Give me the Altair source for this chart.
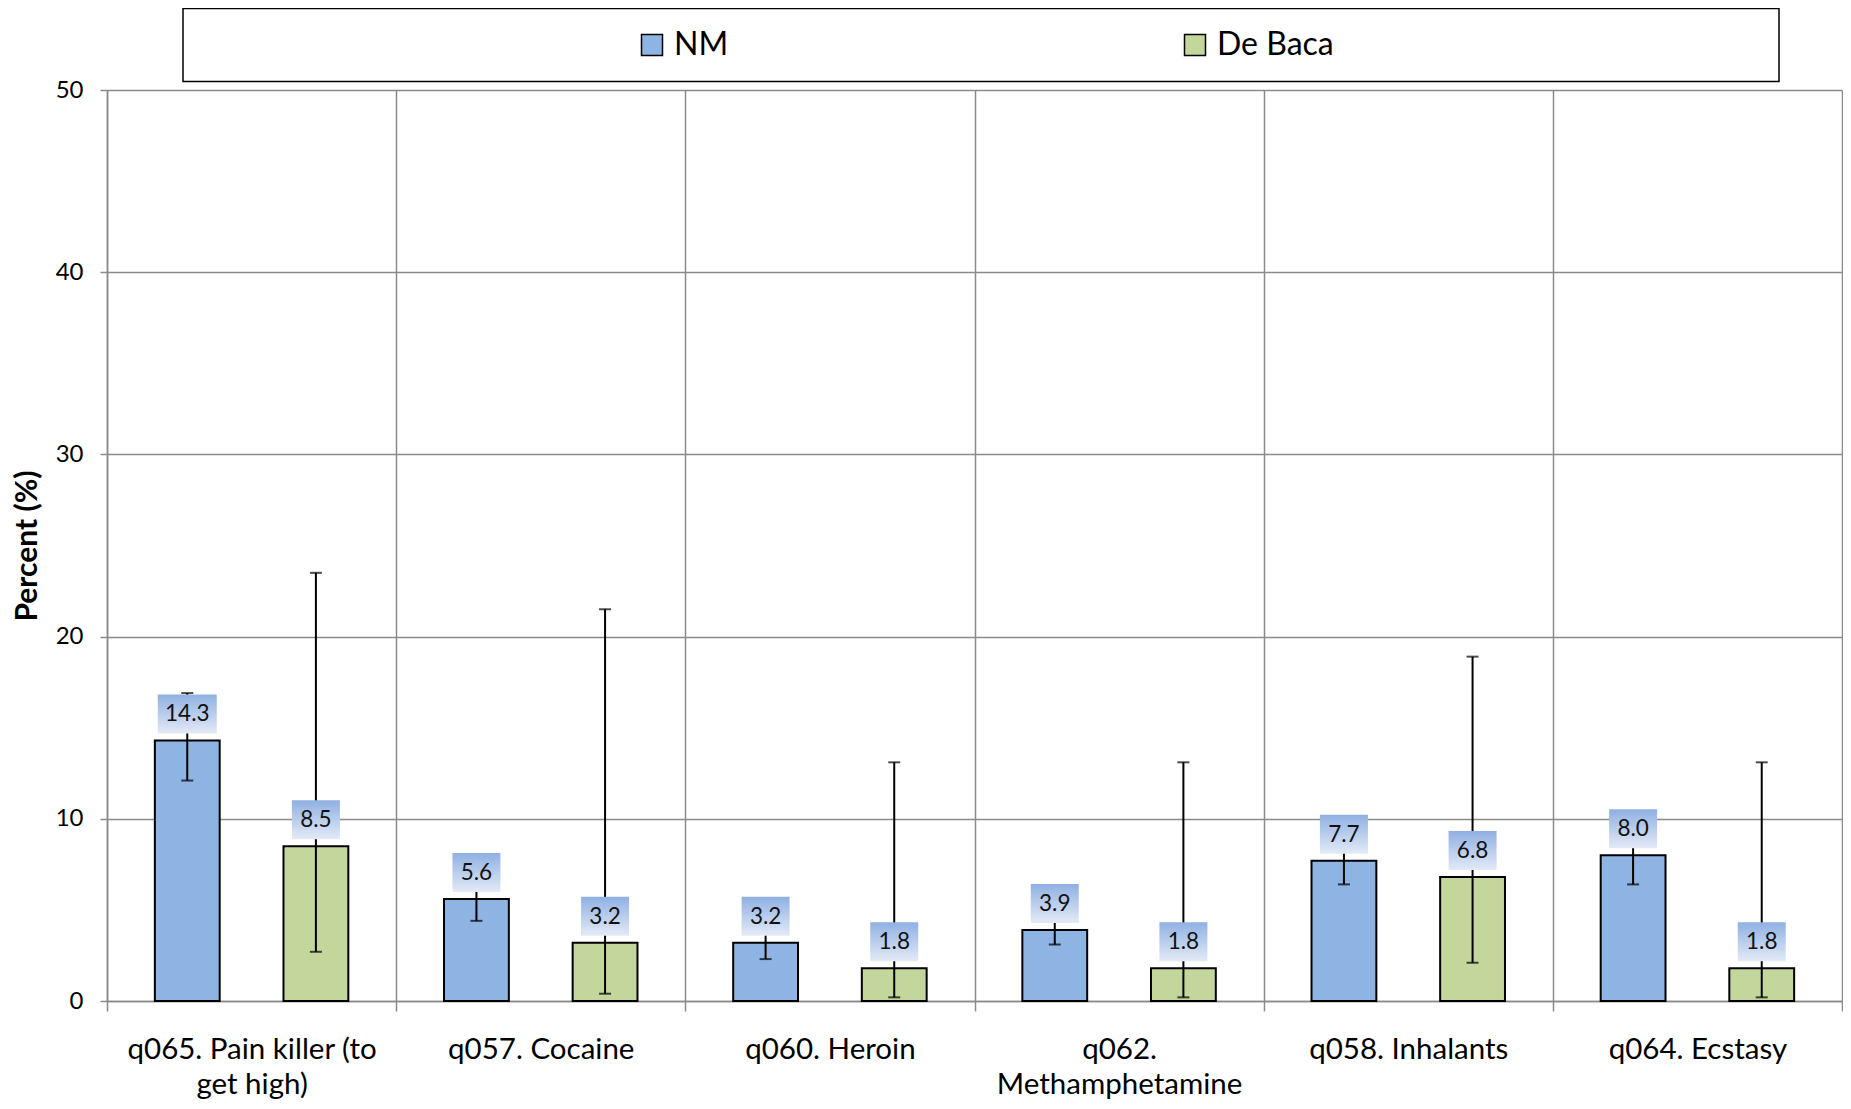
import altair as alt
import pandas as pd

categories = ["q065. Pain killer (to get high)", "q057. Cocaine", "q060. Heroin",
              "q062. Methamphetamine", "q058. Inhalants", "q064. Ecstasy"]
label_lines = [["q065. Pain killer (to", "get high)"], ["q057. Cocaine"], ["q060. Heroin"],
               ["q062.", "Methamphetamine"], ["q058. Inhalants"], ["q064. Ecstasy"]]
series = ["NM", "De Baca"]
nm_values = [14.3, 5.6, 3.2, 3.9, 7.7, 8.0]
nm_lower = [12.1, 4.4, 2.3, 3.1, 6.4, 6.4]
nm_upper = [16.9, 7.0, 4.3, 4.9, 9.1, 9.6]
db_values = [8.5, 3.2, 1.8, 1.8, 6.8, 1.8]
db_lower = [2.7, 0.4, 0.2, 0.2, 2.1, 0.2]
db_upper = [23.5, 21.5, 13.1, 13.1, 18.9, 13.1]
colors = ["#8EB4E3", "#C3D69B"]
y_ticks = [0, 10, 20, 30, 40, 50]

rows = []
for i, c in enumerate(categories):
    rows.append(dict(cat=c, series="NM", value=nm_values[i], lo=nm_lower[i], hi=nm_upper[i]))
    rows.append(dict(cat=c, series="De Baca", value=db_values[i], lo=db_lower[i], hi=db_upper[i]))
df = pd.DataFrame(rows)
df["label"] = df["value"].map(lambda v: f"{v:.1f}")

# multi-line tick labels
expr = "datum.value"
for c, lines in zip(categories, label_lines):
    if len(lines) > 1:
        arr = "[" + ", ".join("'" + s + "'" for s in lines) + "]"
        expr = f"datum.value == '{c}' ? {arr} : ({expr})"

GRID = "#8A8A8A"
FONT = "Lato"

x_enc = alt.X("cat:N", sort=categories,
              scale=alt.Scale(paddingInner=0, paddingOuter=0),
              axis=alt.Axis(title=None, labelAngle=0, labelFontSize=29.5, labelPadding=24,
                            labelLineHeight=35, labelLimit=500, labelExpr=expr,
                            tickBand="extent", grid=True, gridColor=GRID, gridWidth=1.5,
                            domainColor=GRID, domainWidth=1.5, tickColor=GRID, tickWidth=1.5,
                            tickSize=10, labelColor="black", labelFont=FONT))
xo_enc = alt.XOffset("series:N", sort=series,
                     scale=alt.Scale(domain=series, paddingInner=0.496, paddingOuter=0.372))
y_scale = alt.Scale(domain=[0, 50], nice=False)
y_enc = alt.Y("value:Q", scale=y_scale,
              axis=alt.Axis(values=y_ticks, title="Percent (%)", labelFontSize=24, labelPadding=17,
                            tickSize=7, grid=True, gridColor=GRID, gridWidth=1.5,
                            domainColor=GRID, domainWidth=1.5, tickColor=GRID, tickWidth=1.5,
                            labelColor="black", labelFont=FONT, titleFont=FONT,
                            titleFontSize=30, titleFontWeight="bold", titleColor="black",
                            titleX=-80, titleBaseline="middle"))

base = alt.Chart(df).encode(x=x_enc, xOffset=xo_enc)

bars = base.mark_bar(stroke="black", strokeWidth=2).encode(
    y=y_enc,
    color=alt.Color("series:N", sort=series, scale=alt.Scale(domain=series, range=colors),
                    legend=alt.Legend(orient="none", legendX=529, legendY=-61, direction="horizontal",
                                      title=None, symbolType="square", symbolSize=441,
                                      symbolStrokeColor="black", symbolStrokeWidth=1.5,
                                      labelFontSize=32, labelFont=FONT, labelColor="black",
                                      labelOffset=6, columnPadding=450, padding=0)),
)

err_rule = base.mark_rule(color="black", strokeWidth=2).encode(y="lo:Q", y2="hi:Q")
err_lo = base.mark_tick(color="black", thickness=2, size=12, orient="horizontal").encode(y="lo:Q")
err_hi = base.mark_tick(color="black", thickness=2, size=12, orient="horizontal").encode(y="hi:Q")

grad = alt.LinearGradient(gradient="linear",
                          stops=[alt.GradientStop(color="#8FB0E2", offset=0),
                                 alt.GradientStop(color="#E3EAF7", offset=1)],
                          x1=0, x2=0, y1=0, y2=1)

boxes = base.transform_calculate(bw="length(datum.label) > 3 ? 59 : 48").mark_bar(
    fill=grad, yOffset=-46, y2Offset=-7
).encode(y="value:Q", y2="value:Q", size=alt.Size("bw:Q", scale=None))

texts = base.mark_text(yOffset=-26, fontSize=22.5, font=FONT, color="#111111", baseline="middle").encode(
    y="value:Q", text="label:N")

legend_box = alt.Chart(alt.Data(values=[{}])).mark_rect(
    fill="transparent", stroke="black", strokeWidth=1.5
).encode(x=alt.value(76), x2=alt.value(1672), y=alt.value(-81.5), y2=alt.value(-8.5))

chart = alt.layer(legend_box, bars, err_rule, err_lo, err_hi, boxes, texts).properties(
    width=1735, height=911,
    autosize=alt.AutoSizeParams(type="none"),
    padding={"left": 99, "top": 82, "right": 1, "bottom": 100},
).configure_view(stroke=GRID, strokeWidth=1.5).configure(font=FONT, background="white")

chart.save("out.html", embed_options={"renderer": "svg", "actions": False})
